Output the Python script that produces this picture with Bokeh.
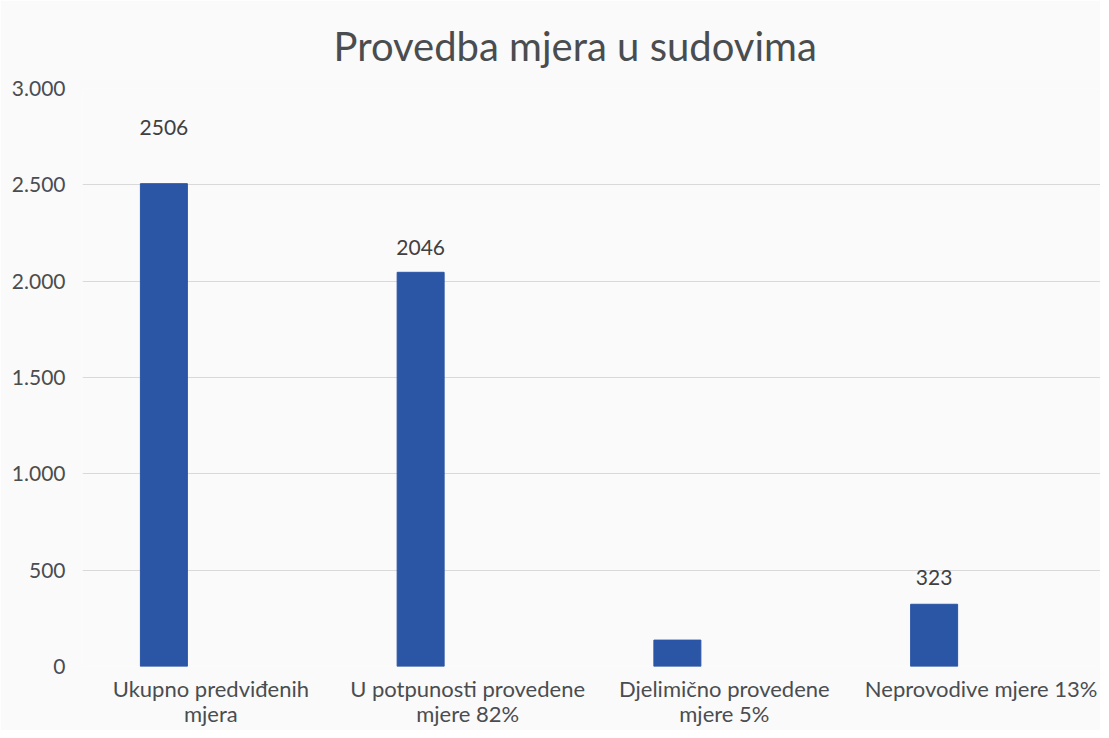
from bokeh.plotting import figure
from bokeh.models import ColumnDataSource, FixedTicker, CustomJSTickFormatter, Range1d
from bokeh.core.properties import value
from bokeh.embed import file_html
from bokeh.resources import INLINE

title = "Provedba mjera u sudovima"
categories = ["Ukupno predviđenih\nmjera", "U potpunosti provedene\nmjere 82%",
              "Djelimično provedene\nmjere 5%", "Neprovodive mjere 13%"]
values = [2506, 2046, 137, 323]
labels = ["2506", "2046", "", "323"]
label_offsets = [-56, -25, -25, -27]
y_ticks = [0, 500, 1000, 1500, 2000, 2500, 3000]

FONT = "Lato"
TEXT = "#4a4d50"
BAR_SHIFT = -0.183
BAR_WIDTH = 0.183

centers = [i + 0.5 for i in range(len(categories))]
bar_x = [c + BAR_SHIFT for c in centers]
src = ColumnDataSource(dict(x=bar_x, val=values, lab=labels, off=label_offsets))

p = figure(width=1100, height=730, x_range=Range1d(0, 3.965),
           y_range=Range1d(0, 3000), output_backend="svg", toolbar_location=None,
           title=title, min_border_left=82, min_border_right=0,
           min_border_bottom=60, min_border_top=88)
p.background_fill_color = "#fafafa"
p.border_fill_color = "#fafafa"
p.outline_line_color = None

p.title.align = "left"
p.title.vertical_align = "top"
p.title.text_font = FONT
p.title.text_font_size = "40px"
p.title.text_font_style = "normal"
p.title.text_color = TEXT
p.title.standoff = 33
p.title.offset = 251

p.vbar(x="x", top="val", width=BAR_WIDTH, source=src, color="#2b55a5")
p.text(x="x", y="val", text="lab", y_offset="off",
       source=src, text_align="center", text_baseline="middle",
       text_font=value(FONT), text_font_size="21px", text_color="#404040")

p.xgrid.grid_line_color = None
p.ygrid.grid_line_color = "#d9d9d9"
p.ygrid.grid_line_width = 1

p.xaxis.ticker = FixedTicker(ticks=centers)
p.xaxis.major_label_overrides = {c: lab for c, lab in zip(centers, categories)}
p.yaxis.ticker = FixedTicker(ticks=y_ticks)
p.yaxis.formatter = CustomJSTickFormatter(code="return tick.toString().replace(/\\B(?=(\\d{3})+(?!\\d))/g, '.');")
for ax in (p.xaxis, p.yaxis):
    ax.axis_line_color = None
    ax.major_tick_line_color = None
    ax.minor_tick_line_color = None
    ax.major_label_text_font = FONT
    ax.major_label_text_color = TEXT
p.yaxis.major_label_text_font_size = "21px"
p.xaxis.major_label_text_font_size = "22px"
p.xaxis.major_label_text_line_height = 0.95
p.yaxis.major_label_standoff = 11
p.xaxis.major_label_standoff = 2

open("out.html", "w").write(file_html(p, INLINE))
